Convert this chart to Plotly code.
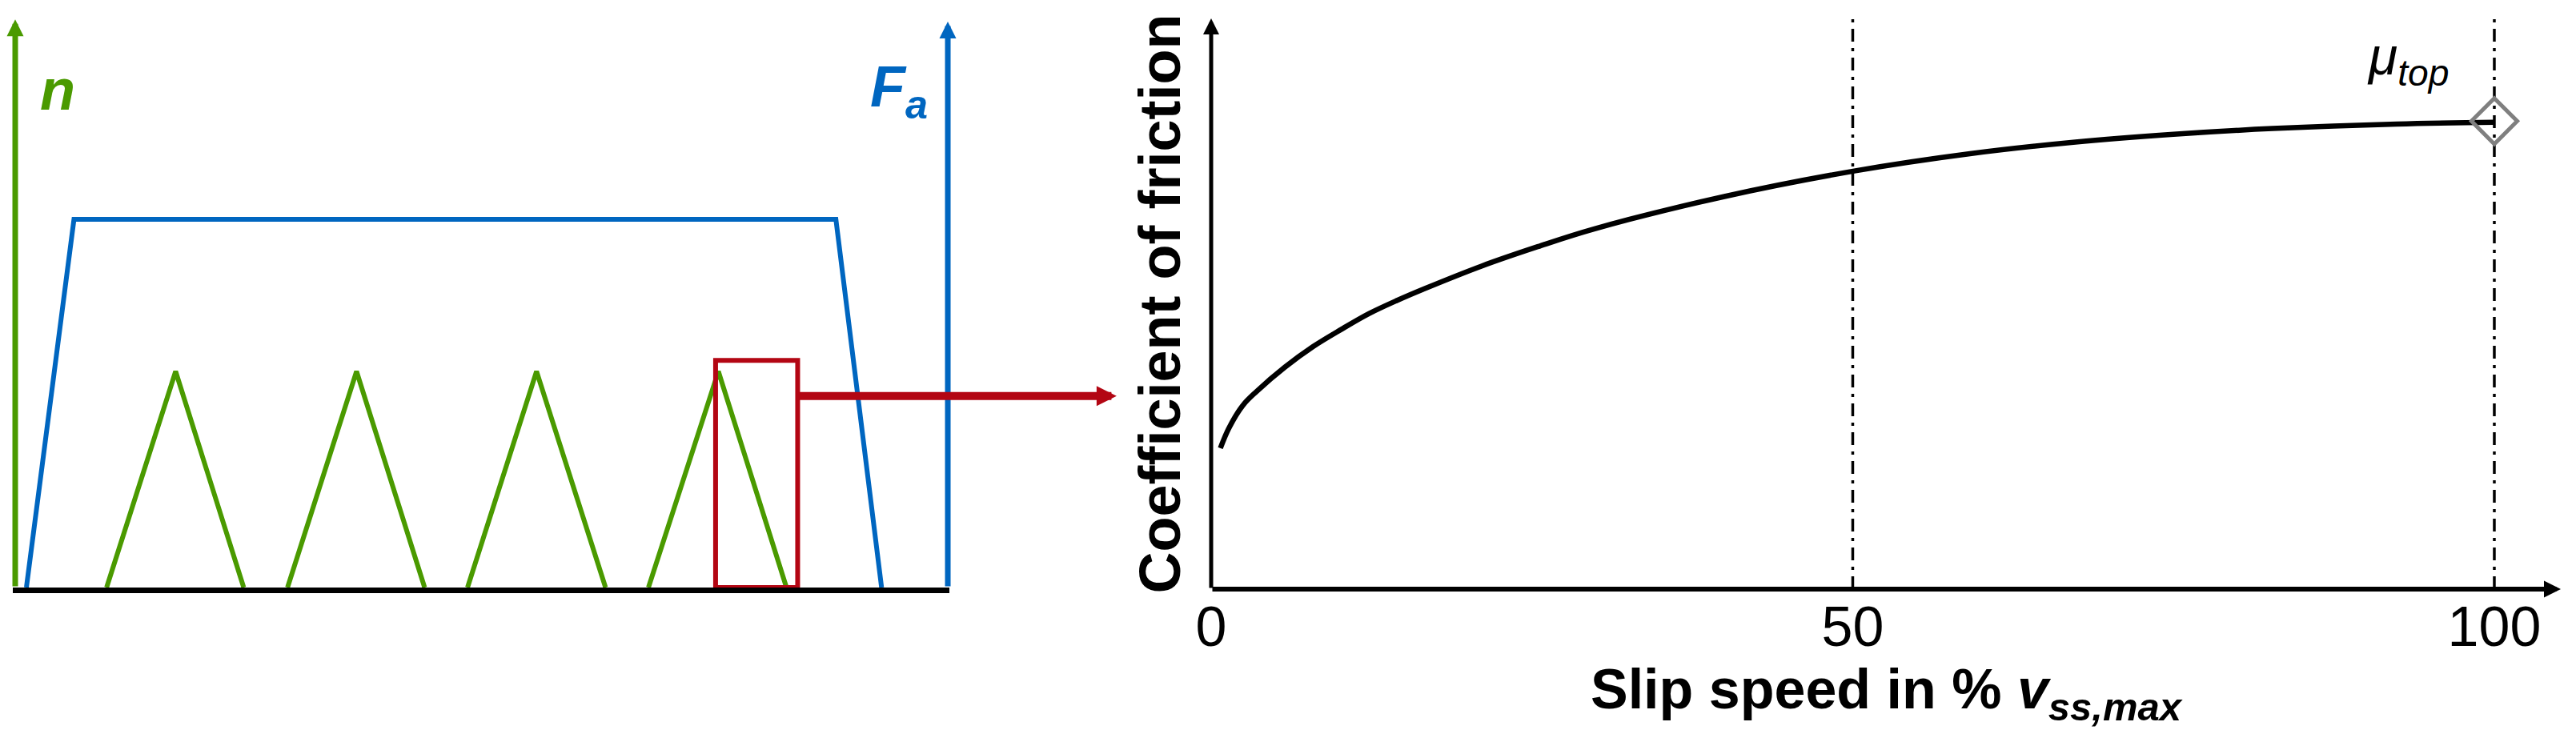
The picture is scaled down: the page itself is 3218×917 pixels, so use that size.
import plotly.graph_objects as go

# ── Left schematic: speed n (green) and axial load F_a (blue) over time ──────
T_LOAD = [0.12, 0.63, 8.80, 9.29]
F_LOAD = [0.0, 1.0, 1.0, 0.0]

T_N_START = [0.98, 2.92, 4.85, 6.79]
T_N_PEAK = [1.72, 3.66, 5.59, 7.54]
T_N_END = [2.45, 4.39, 6.33, 8.27]
N_PEAK = 0.587

ZOOM_T = [7.51, 8.39]
ZOOM_N = [0.0, 0.617]

# ── Right: coefficient of friction vs slip speed ─────────────────────────────
SLIP = [0.72, 1.38, 2.47, 3.57, 5.75, 7.94, 10.13, 12.32, 14.5, 16.69, 21.07,
        25.45, 29.83, 40.0, 50.21, 59.14, 67.19, 75.0, 82.72, 92.39, 100.0]
MU = [0.247, 0.282, 0.322, 0.347, 0.389, 0.425, 0.455, 0.483, 0.506, 0.527, 0.566,
      0.600, 0.631, 0.688, 0.733, 0.763, 0.783, 0.797, 0.807, 0.815, 0.818]
MU_TOP_SLIP = [100]
MU_TOP = [0.82]
MARK_SLIP = [50, 100]
X_TICKS = [0, 50, 100]

GREEN = "#4a9a00"
BLUE = "#0066c0"
RED = "#b30613"
GRAY = "#7f7f7f"
NARROW = "Liberation Sans Narrow, Arial Narrow, Liberation Sans, sans-serif"
SANS = "Liberation Sans, Arial, sans-serif"

# page body margin offsets the figure by 8 px
OFF = 8
W, H = 3218 - OFF, 917 - OFF


def fx(px):
    return (px - OFF) / W


def fy(py):
    return 1 - (py - OFF) / H


fig = go.Figure()

# speed triangles
n_x, n_y = [], []
for a, p, b in zip(T_N_START, T_N_PEAK, T_N_END):
    n_x += [a, p, b, None]
    n_y += [0, N_PEAK, 0, None]
fig.add_trace(go.Scatter(x=n_x, y=n_y, mode="lines", line=dict(color=GREEN, width=6),
                         xaxis="x2", yaxis="y2", cliponaxis=False, hoverinfo="skip"))
# load trapezoid
fig.add_trace(go.Scatter(x=T_LOAD, y=F_LOAD, mode="lines", line=dict(color=BLUE, width=6),
                         xaxis="x2", yaxis="y2", cliponaxis=False, hoverinfo="skip"))
# zoom box
fig.add_trace(go.Scatter(
    x=[ZOOM_T[0], ZOOM_T[1], ZOOM_T[1], ZOOM_T[0], ZOOM_T[0]],
    y=[ZOOM_N[0], ZOOM_N[0], ZOOM_N[1], ZOOM_N[1], ZOOM_N[0]],
    mode="lines", line=dict(color=RED, width=6),
    xaxis="x2", yaxis="y2", cliponaxis=False, hoverinfo="skip"))

# reference lines at 50 % and 100 %
for xv in MARK_SLIP:
    fig.add_trace(go.Scatter(x=[xv, xv], y=[0, 1], mode="lines",
                             line=dict(color="black", width=3.5, dash="16px,8px,4px,8px"),
                             cliponaxis=False, hoverinfo="skip"))
# friction curve
fig.add_trace(go.Scatter(x=SLIP, y=MU, mode="lines",
                         line=dict(color="black", width=6.5, shape="spline", smoothing=1.0),
                         cliponaxis=False, hoverinfo="skip"))
fig.add_trace(go.Scatter(x=MU_TOP_SLIP, y=MU_TOP, mode="markers",
                         marker=dict(symbol="diamond-open", size=44, color=GRAY, line=dict(width=5, color=GRAY)),
                         cliponaxis=False, hoverinfo="skip"))


def arrow(x, y, ax, ay, color, width, size, xr="x", yr="y"):
    return dict(x=x, y=y, ax=ax, ay=ay, xref=xr, yref=yr, axref=xr, ayref=yr, text="",
                showarrow=True, arrowhead=2, arrowsize=size, arrowwidth=width,
                arrowcolor=color, standoff=0)


annotations = [
    arrow(0, 1.543, 0, 0, GREEN, 7, 0.6, "x2", "y2"),
    arrow(10, 1.537, 10, 0, BLUE, 7, 0.6, "x2", "y2"),
    arrow(11.81, 0.52, ZOOM_T[1], 0.52, RED, 10, 0.5, "x2", "y2"),
    arrow(0, 1.0, 0, 0, "black", 5, 0.8),
    arrow(105.18, 0, 0, 0, "black", 6, 0.7),
    dict(x=0.25, y=1.26, xref="x2", yref="y2", xanchor="left", yanchor="bottom",
         text="<b><i>n</i></b>", showarrow=False, font=dict(family=SANS, size=72, color=GREEN)),
    dict(x=9.8, y=1.245, xref="x2", yref="y2", xanchor="right", yanchor="bottom",
         text="<b><i>F</i></b><sub><b><i>a</i></b></sub>", showarrow=False,
         font=dict(family=SANS, size=72, color=BLUE)),
    dict(x=96.6, y=0.927, xref="x", yref="y", xanchor="right", yanchor="middle",
         text="<i>μ</i><sub><i>top</i></sub>", showarrow=False,
         font=dict(family=NARROW, size=66, color="black")),
]

fig.update_layout(
    width=W, height=H, margin=dict(l=0, r=0, t=0, b=0, pad=0), autosize=False,
    plot_bgcolor="white", paper_bgcolor="white", showlegend=False,
    xaxis=dict(domain=[fx(1513), fx(3199)], range=[0, 105.18], showgrid=False, zeroline=False,
               showline=False, tickvals=X_TICKS, ticks="", automargin=False,
               tickfont=dict(family=NARROW, size=70, color="black"),
               title=dict(text="<b>Slip speed in % <i>v</i><sub><i>ss,max</i></sub></b>",
                          font=dict(family=NARROW, size=70, color="black"), standoff=9)),
    yaxis=dict(domain=[fy(736), fy(23)], range=[0, 1], showgrid=False, zeroline=False,
               showline=False, showticklabels=False, ticks="", automargin=False,
               title=dict(text="<b>Coefficient of friction</b>",
                          font=dict(family=SANS, size=72, color="black"), standoff=13)),
    xaxis2=dict(domain=[fx(16), fx(1186)], range=[-0.0258, 10.017], anchor="y2",
                showgrid=False, zeroline=False, showticklabels=False, ticks="", automargin=False,
                showline=True, linecolor="black", linewidth=7),
    yaxis2=dict(domain=[fy(734), 1], range=[0, (734 - OFF) / 460], anchor="x2", automargin=False,
                showgrid=False, zeroline=False, showticklabels=False, ticks="", showline=False),
    annotations=annotations,
)

fig.write_html("out.html")
